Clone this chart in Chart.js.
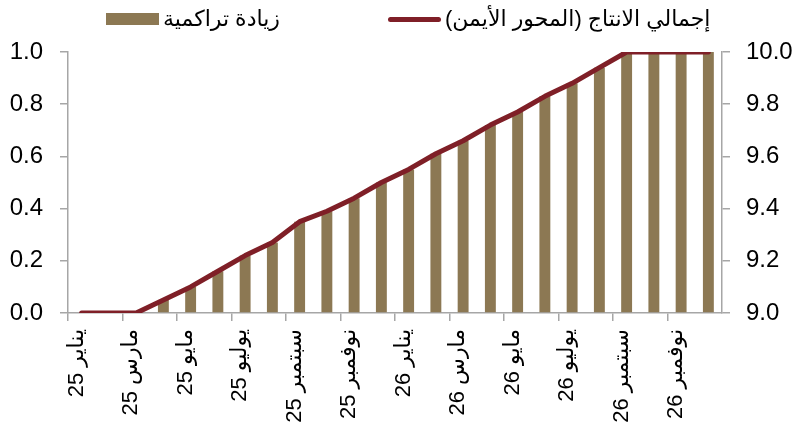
<!DOCTYPE html>
<html lang="ar">
<head>
<meta charset="utf-8">
<script src="https://cdn.jsdelivr.net/npm/chart.js@4/dist/chart.umd.min.js"></script>
<style>
  html, body { margin: 0; padding: 0; background: #ffffff; }
  #wrap { position: relative; width: 795px; height: 425px; overflow: hidden; }
  canvas { position: absolute; left: 0; top: 0; }
  .leg { position: absolute; top: 4px; height: 30px; display: flex; align-items: center;
         font-family: "Liberation Sans", Arial, "DejaVu Sans", sans-serif; font-size: 22px; color: #000; white-space: nowrap; }
  .sw-bar { width: 53px; height: 12px; background: #8c7853; margin-right: 4px; }
  .sw-line { width: 53px; height: 5px; background: #7f1f27; border-radius: 3px; margin-right: 4px; }
</style>
</head>
<body>
<div id="wrap">
  <canvas id="c" width="795" height="425"></canvas>
  <div class="leg" style="left:106px;"><span class="sw-bar"></span><span dir="rtl">زيادة تراكمية</span></div>
  <div class="leg" style="left:388px;"><span class="sw-line"></span><span dir="rtl">إجمالي الانتاج (المحور الأيمن)</span></div>
</div>
<script>
// Categories (monthly, Jan 2025 – Dec 2026)
const months = [
  'يناير 25','فبراير 25','مارس 25','أبريل 25','مايو 25','يونيو 25',
  'يوليو 25','أغسطس 25','سبتمبر 25','أكتوبر 25','نوفمبر 25','ديسمبر 25',
  'يناير 26','فبراير 26','مارس 26','أبريل 26','مايو 26','يونيو 26',
  'يوليو 26','أغسطس 26','سبتمبر 26','أكتوبر 26','نوفمبر 26','ديسمبر 26'
];
// Cumulative increase (left axis)
const cumulativeIncrease = [
  0, 0, 0, 0.05, 0.10, 0.16, 0.22, 0.27, 0.35, 0.39, 0.44, 0.50,
  0.55, 0.61, 0.66, 0.72, 0.77, 0.83, 0.88, 0.94, 1.00, 1.00, 1.00, 1.00
];
// Total production (right axis)
const totalProduction = [
  9.00, 9.00, 9.00, 9.05, 9.10, 9.16, 9.22, 9.27, 9.35, 9.39, 9.44, 9.50,
  9.55, 9.61, 9.66, 9.72, 9.77, 9.83, 9.88, 9.94, 10.00, 10.00, 10.00, 10.00
];
const seriesNames = ['زيادة تراكمية', 'إجمالي الانتاج (المحور الأيمن)'];
const leftTicks = { min: 0, max: 1, step: 0.2 };
const rightTicks = { min: 9, max: 10, step: 0.2 };

const axisGray = '#a6a6a6';
const fontFamily = '"Liberation Sans", Arial, "DejaVu Sans", sans-serif';
const tickFont = { family: fontFamily, size: 24 };
const xTickFont = { family: fontFamily, size: 22 };

new Chart(document.getElementById('c'), {
  data: {
    labels: months,
    datasets: [
      {
        type: 'line',
        label: seriesNames[1],
        data: totalProduction,
        yAxisID: 'y1',
        borderColor: '#7f1f27',
        borderWidth: 5,
        pointRadius: 0,
        tension: 0,
        order: 0,
        borderCapStyle: 'round',
        borderJoinStyle: 'round'
      },
      {
        type: 'bar',
        label: seriesNames[0],
        data: cumulativeIncrease,
        yAxisID: 'y',
        backgroundColor: '#8c7853',
        borderWidth: 0,
        barPercentage: 0.4,
        categoryPercentage: 1.0,
        order: 1
      }
    ]
  },
  options: {
    responsive: false,
    devicePixelRatio: 1,
    animation: false,
    layout: { padding: { top: 52, left: 0, right: 0, bottom: 0 } },
    plugins: { legend: { display: false }, tooltip: { enabled: false } },
    scales: {
      x: {
        offset: true,
        grid: {
          offset: true,
          drawOnChartArea: false,
          drawTicks: true,
          tickLength: 8,
          lineWidth: 1.5,
          tickColor: (ctx) => (ctx.index % 2 === 0 ? axisGray : 'rgba(0,0,0,0)'),
          color: axisGray
        },
        border: { color: axisGray, width: 1.5 },
        ticks: {
          autoSkip: false,
          minRotation: 90,
          maxRotation: 90,
          padding: 8,
          labelOffset: -5,
          color: '#000',
          font: xTickFont,
          callback: (v, i) => (i % 2 === 0 ? months[i] : '')
        },
        afterFit: (s) => { s.height = 112; }
      },
      y: {
        position: 'left',
        min: leftTicks.min,
        max: leftTicks.max,
        grid: { drawOnChartArea: false, tickLength: 8, color: axisGray, lineWidth: 1.5 },
        border: { color: axisGray, width: 1.5 },
        ticks: {
          stepSize: leftTicks.step,
          padding: 17,
          color: '#000',
          font: tickFont,
          callback: (v) => Number(v).toFixed(1)
        },
        afterFit: (s) => { s.width = 68; }
      },
      y1: {
        position: 'right',
        min: rightTicks.min,
        max: rightTicks.max,
        grid: { drawOnChartArea: false, tickLength: 8, color: axisGray, lineWidth: 1.5 },
        border: { color: axisGray, width: 1.5 },
        ticks: {
          stepSize: rightTicks.step,
          padding: 16,
          color: '#000',
          font: tickFont,
          callback: (v) => Number(v).toFixed(1)
        },
        afterFit: (s) => { s.width = 73; }
      }
    }
  }
});
</script>
</body>
</html>
